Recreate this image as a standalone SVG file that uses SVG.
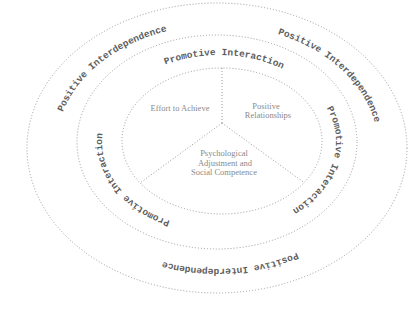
<svg xmlns="http://www.w3.org/2000/svg" xmlns:xlink="http://www.w3.org/1999/xlink" width="409" height="333" viewBox="0 0 409 333">
<style>
.ring{fill:none;stroke:#9a9a9a;stroke-width:1;stroke-dasharray:1 2}
.band{font-family:"Liberation Mono",monospace;font-weight:bold;font-size:9.5px;fill:#5e5e5e}
.sec{font-family:"Liberation Serif",serif;font-size:8.5px;fill:#8a8a8a;text-anchor:middle}
</style>
<defs>
<path id="pUL" d="M56.2,153.4 A161,122 0 0 1 208.6,25.2"/>
<path id="pUR" d="M238.0,26.0 A161,122 0 0 1 376.6,162.9"/>
<path id="pB" d="M341.2,224.6 A161,122 0 0 1 114.6,241.1"/>
<path id="mT" d="M140.7,77.3 A117,87 0 0 1 305.9,83.8"/>
<path id="mR" d="M318.8,96.5 A117,87 0 0 1 280.1,216.2"/>
<path id="mL" d="M185.8,225.4 A117,87 0 0 1 106.8,117.3"/>
</defs>
<rect width="409" height="333" fill="#ffffff"/>
<g id="connectors">
<line class="ring" x1="222" y1="123" x2="222" y2="68"/>
<line class="ring" x1="222" y1="123" x2="140" y2="183"/>
<line class="ring" x1="222" y1="123" x2="304" y2="182.5"/>
</g>
<g id="outer-ring">
<ellipse class="ring" cx="217" cy="148" rx="190" ry="145"/>
<text class="band"><textPath xlink:href="#pUL" startOffset="50%" text-anchor="middle">Positive Interdependence</textPath></text>
<text class="band"><textPath xlink:href="#pUR" startOffset="50%" text-anchor="middle">Positive Interdependence</textPath></text>
<text class="band"><textPath xlink:href="#pB" startOffset="50%" text-anchor="middle">Positive Interdependence</textPath></text>
</g>
<g id="middle-ring">
<ellipse class="ring" cx="217" cy="142" rx="140" ry="107"/>
<text class="band"><textPath xlink:href="#mT" startOffset="50%" text-anchor="middle">Promotive Interaction</textPath></text>
<text class="band"><textPath xlink:href="#mR" startOffset="50%" text-anchor="middle">Promotive Interaction</textPath></text>
<text class="band"><textPath xlink:href="#mL" startOffset="50%" text-anchor="middle">Promotive Interaction</textPath></text>
</g>
<g id="inner-circle">
<ellipse class="ring" cx="222" cy="141" rx="100" ry="73"/>
</g>
<g id="effort">
<text class="sec" x="180" y="111">Effort to Achieve</text>
</g>
<g id="relationships">
<text class="sec" x="266" y="109">Positive</text>
<text class="sec" x="268" y="118">Relationships</text>
</g>
<g id="psychological">
<text class="sec" x="224" y="156">Psychological</text>
<text class="sec" x="225" y="166">Adjustment and</text>
<text class="sec" x="224" y="175">Social Competence</text>
</g>
</svg>
